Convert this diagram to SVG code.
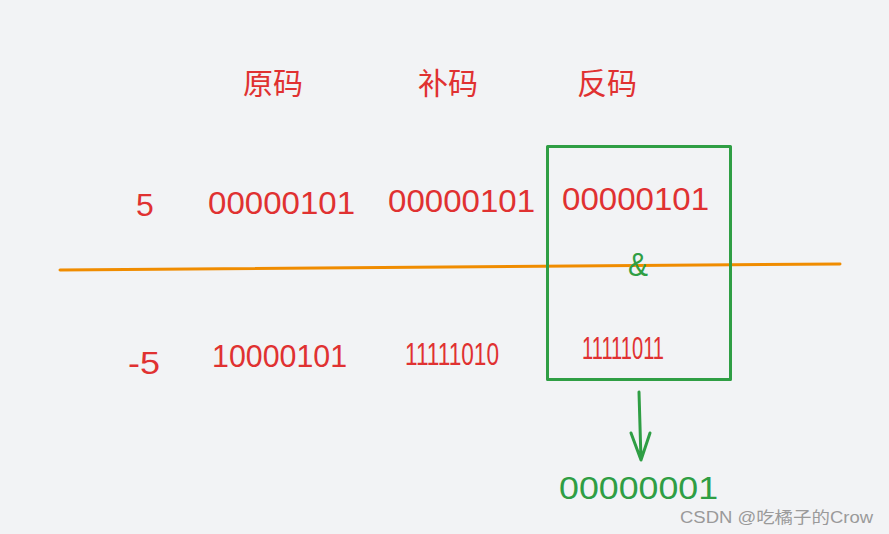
<svg xmlns="http://www.w3.org/2000/svg" width="889" height="534" viewBox="0 0 889 534">
<style>
.r{fill:#e03131;font-family:"Liberation Sans","Noto Sans CJK SC",sans-serif;}
.g{fill:#2f9e44;font-family:"Liberation Sans",sans-serif;}
.h{font-size:30px;}
.n{font-size:32px;}
</style>
<rect width="889" height="534" fill="#f2f3f5"/>
<g id="headers">
<text class="r h" x="273" y="94" text-anchor="middle">原码</text>
<text class="r h" x="448" y="94" text-anchor="middle">补码</text>
<text class="r h" x="607" y="94" text-anchor="middle">反码</text>
</g>
<g id="row5">
<text class="r n" x="136" y="216">5</text>
<text class="r n" x="208" y="214" textLength="147" lengthAdjust="spacingAndGlyphs">00000101</text>
<text class="r n" x="388" y="212" textLength="147" lengthAdjust="spacingAndGlyphs">00000101</text>
<text class="r n" x="562" y="210" textLength="147" lengthAdjust="spacingAndGlyphs">00000101</text>
</g>
<g id="rowm5">
<text class="r n" x="128" y="374" textLength="32" lengthAdjust="spacingAndGlyphs">-5</text>
<text class="r n" x="212" y="367" textLength="135" lengthAdjust="spacingAndGlyphs">10000101</text>
<text class="r n" x="405" y="365" textLength="94" lengthAdjust="spacingAndGlyphs">11111010</text>
<text class="r n" x="582" y="359" textLength="82" lengthAdjust="spacingAndGlyphs">11111011</text>
</g>
<g id="connectors" fill="none" stroke-linecap="round" stroke-linejoin="round">
<line x1="60" y1="270" x2="840" y2="264" stroke="#f08c00" stroke-width="3"/>
<rect x="547.5" y="146.5" width="183" height="233" stroke="#2f9e44" stroke-width="3"/>
<path d="M639 392 L641 460 M631 433 L641 460 L650 433" stroke="#2f9e44" stroke-width="3"/>
</g>
<g id="and">
<text class="g" x="628" y="276" font-size="34" textLength="20" lengthAdjust="spacingAndGlyphs">&amp;</text>
</g>
<g id="result">
<text class="g" x="559" y="499" font-size="32" textLength="159" lengthAdjust="spacingAndGlyphs">00000001</text>
</g>
<text x="680" y="523" font-size="16" fill="#9a9a9a" font-family="Liberation Sans,Noto Sans CJK SC,sans-serif" textLength="193" lengthAdjust="spacingAndGlyphs">CSDN @吃橘子的Crow</text>
</svg>
